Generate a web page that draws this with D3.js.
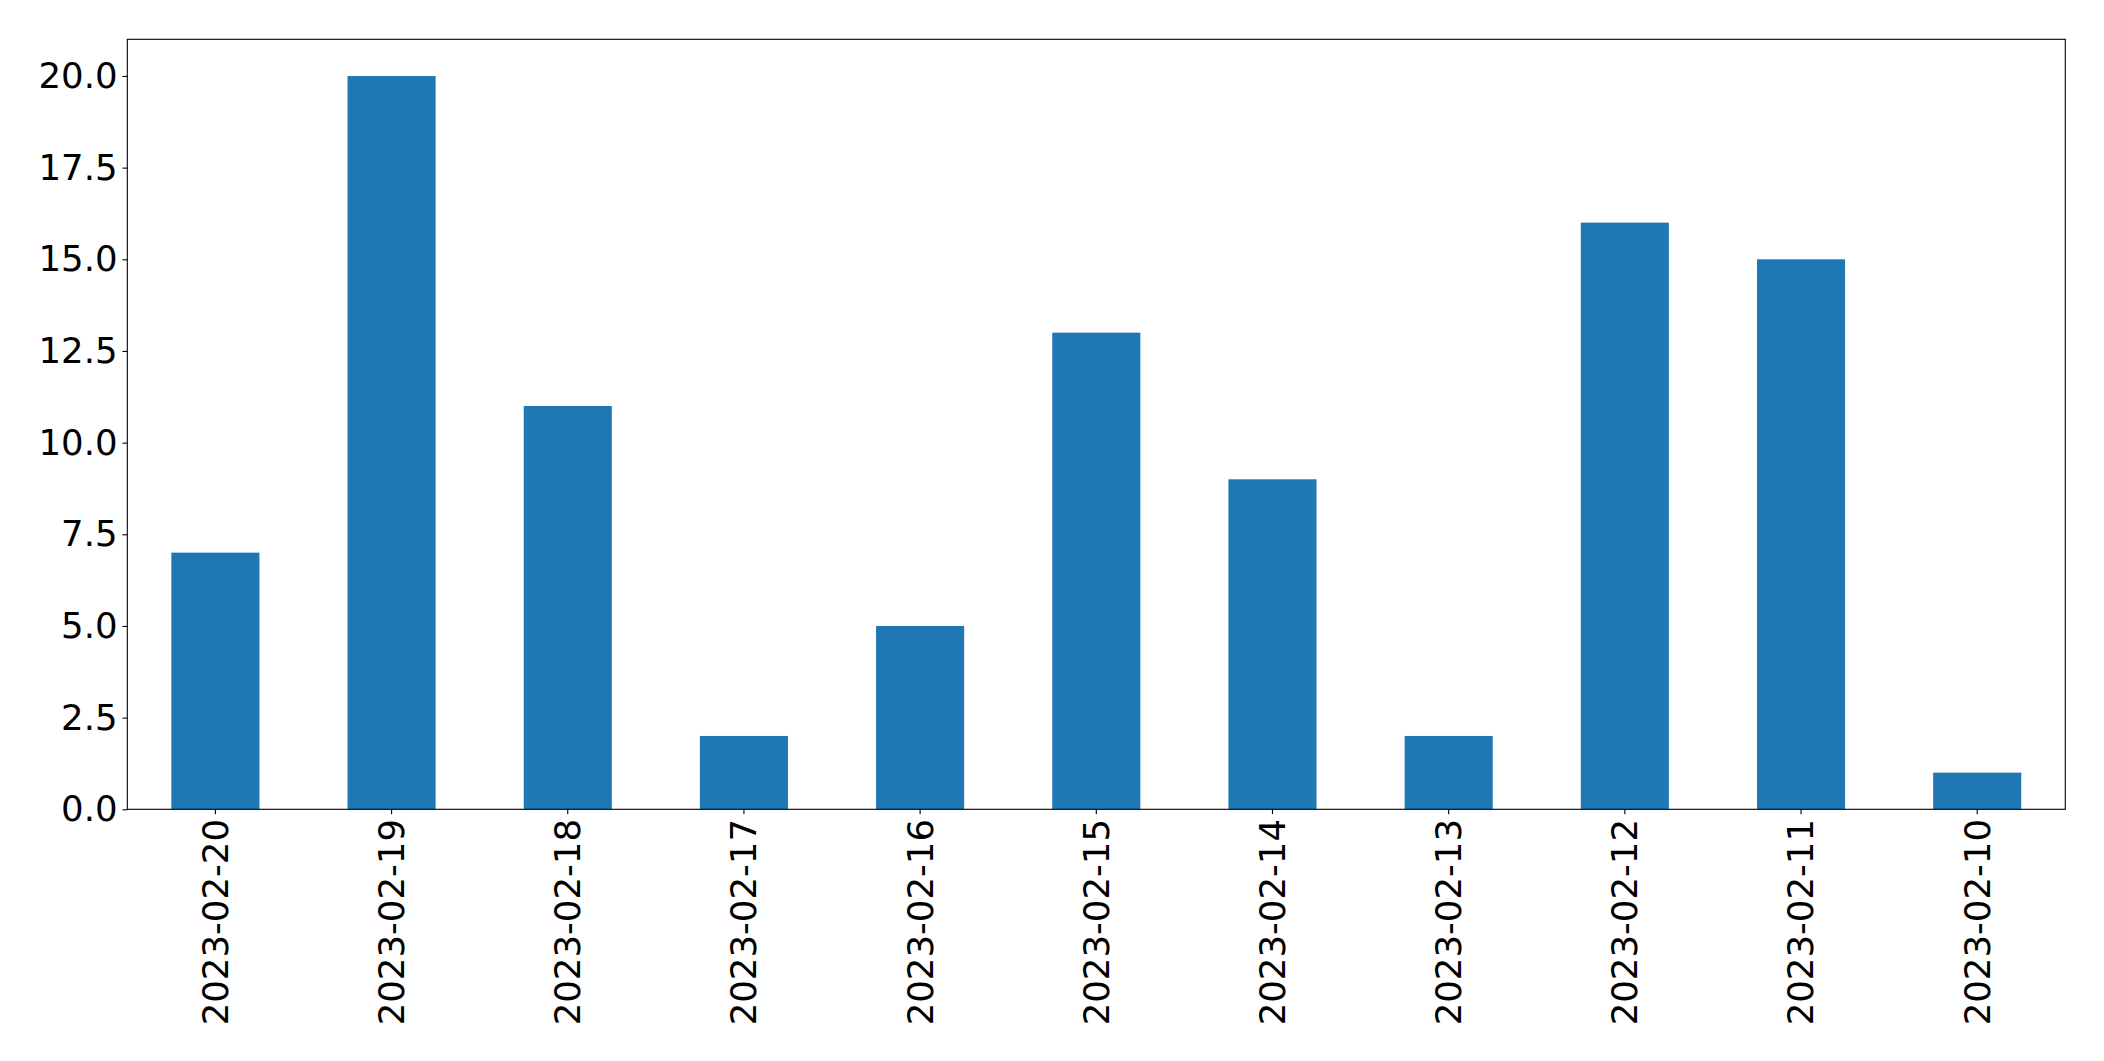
<!DOCTYPE html>
<html>
<head>
<meta charset="utf-8">
<script src="https://cdn.jsdelivr.net/npm/d3@7"></script>
<style>
  html, body { margin: 0; padding: 0; background: #fff; }
  svg { display: block; }
  text { font-family: "DejaVu Sans", sans-serif; fill: #000; }
</style>
</head>
<body>
<script>
const categories = ["2023-02-20","2023-02-19","2023-02-18","2023-02-17","2023-02-16","2023-02-15","2023-02-14","2023-02-13","2023-02-12","2023-02-11","2023-02-10"];
const values = [7, 20, 11, 2, 5, 13, 9, 2, 16, 15, 1];
const yTicks = [0, 2.5, 5, 7.5, 10, 12.5, 15, 17.5, 20];

(function () {
const W = 2104, H = 1061;
const mLeft = 127.3, mRight = 2065.3, mTop = 39.3, mBottom = 809.3;
const fontSize = 35.5;
const tickLen = 4.86, pad = 4.86;

const svg = d3.select("body").append("svg").attr("width", W).attr("height", H);

const x = d3.scaleBand().domain(categories).range([mLeft, mRight]).paddingInner(0.5).paddingOuter(0.25);
const y = d3.scaleLinear().domain([0, 21]).range([mBottom, mTop]);

svg.append("g").selectAll("rect").data(values).join("rect")
  .attr("x", (d, i) => x(categories[i]))
  .attr("width", x.bandwidth())
  .attr("y", d => y(d))
  .attr("height", d => y(0) - y(d))
  .attr("fill", "#1f77b4");

svg.append("rect").attr("x", mLeft).attr("y", mTop).attr("width", mRight - mLeft).attr("height", mBottom - mTop)
  .attr("fill", "none").attr("stroke", "#000").attr("stroke-width", 1.1);

const yAxis = d3.axisLeft(y).tickValues(yTicks).tickFormat(d3.format(".1f")).tickSize(tickLen).tickPadding(pad);
const gy = svg.append("g").attr("transform", `translate(${mLeft},0)`).call(yAxis);
gy.select(".domain").remove();
gy.selectAll(".tick line").attr("stroke", "#000").attr("stroke-width", 1.1);
gy.selectAll(".tick text").style("font-size", fontSize + "px").attr("font-family", "DejaVu Sans").attr("fill", "#000");

const xAxis = d3.axisBottom(x).tickSize(tickLen).tickPadding(pad);
const gx = svg.append("g").attr("transform", `translate(0,${mBottom})`).call(xAxis);
gx.select(".domain").remove();
gx.selectAll(".tick line").attr("stroke", "#000").attr("stroke-width", 1.1);
gx.selectAll(".tick text")
  .style("font-size", fontSize + "px").attr("font-family", "DejaVu Sans").attr("fill", "#000")
  .attr("text-anchor", "end")
  .attr("dy", "0.35em")
  .attr("x", 0).attr("y", 0)
  .attr("transform", `translate(0,${tickLen + pad}) rotate(-90)`);
})();
</script>
</body>
</html>
